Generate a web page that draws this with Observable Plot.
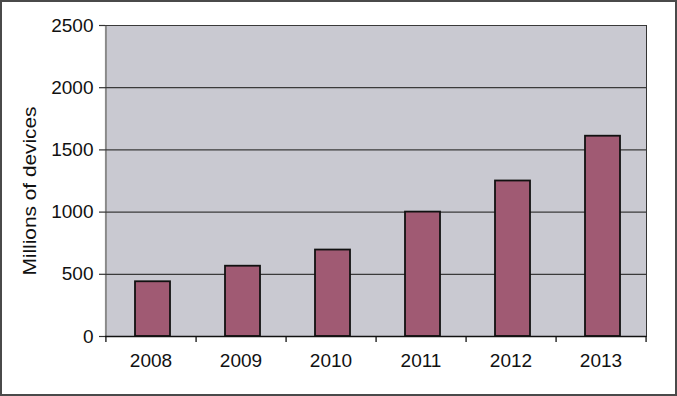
<!DOCTYPE html>
<html><head><meta charset="utf-8">
<script src="https://cdn.jsdelivr.net/npm/d3@7"></script>
<script src="https://cdn.jsdelivr.net/npm/@observablehq/plot@0.6"></script>
<style>
body{margin:0;background:#fff}
#chart svg{display:block;outline:2px solid #4a4a4a;outline-offset:-2px}
</style>
</head><body><div id="chart"></div>
<script>
const years = ["2008", "2009", "2010", "2011", "2012", "2013"];
const devices = [440, 565, 695, 1000, 1250, 1610];
const yTicks = [0, 500, 1000, 1500, 2000, 2500];
const yLabel = "Millions of devices";

const data = years.map((year, i) => ({year, value: devices[i]}));
const W = 677, H = 396, mL = 105, mR = 31, mT = 25, mB = 60;
const step = (W - mL - mR) / years.length;

const chart = Plot.plot({
  width: W, height: H,
  marginLeft: mL, marginRight: mR, marginTop: mT, marginBottom: mB,
  style: {fontFamily: "'Liberation Sans', Arial, sans-serif", fontSize: "19px", color: "#111", background: "#fff"},
  x: {domain: years, paddingInner: 0.612, paddingOuter: 0.306, label: null},
  y: {domain: [0, 2500], ticks: yTicks, label: null},
  marks: [
    Plot.frame({fill: "#c9c9d1", stroke: "#333", strokeWidth: 1}),
    Plot.ruleX([years[0]], {dx: -step / 2, stroke: "#8a8a8a", strokeWidth: 2}),
    Plot.ruleY(yTicks.slice(1), {stroke: "#3a3a3a", strokeWidth: 1.2}),
    Plot.barY(data, {x: "year", y: "value", fill: "#a05a73", stroke: "#111", strokeWidth: 1.8, dx: 2}),
    Plot.ruleY([0], {stroke: "#111", strokeWidth: 1.6}),
    Plot.axisY({ticks: yTicks, tickFormat: d => String(d), fontSize: 19, tickSize: 6, tickPadding: 6, stroke: "#333", strokeWidth: 1.2,
      label: yLabel, labelAnchor: "center", labelArrow: "none", labelOffset: 82}),
    Plot.axisX({tickSize: 0, tickPadding: 17, fontSize: 19, label: null}),
    Plot.axisX({tickSize: 6, fill: "none", stroke: "#111", strokeWidth: 1.3, dx: step / 2, label: null}),
    Plot.axisX({ticks: [years[0]], tickSize: 6, fill: "none", stroke: "#111", strokeWidth: 1.3, dx: -step / 2, label: null})
  ]
});
document.getElementById("chart").append(chart);
const lab = d3.select(chart).select('g[aria-label="y-axis label"]');
lab.attr("transform", function(){ return (this.getAttribute("transform")||"") + " translate(0,10)"; });
lab.selectAll("text").attr("font-size", 18).attr("textLength", 169).attr("lengthAdjust", "spacingAndGlyphs");
</script>
</body></html>
